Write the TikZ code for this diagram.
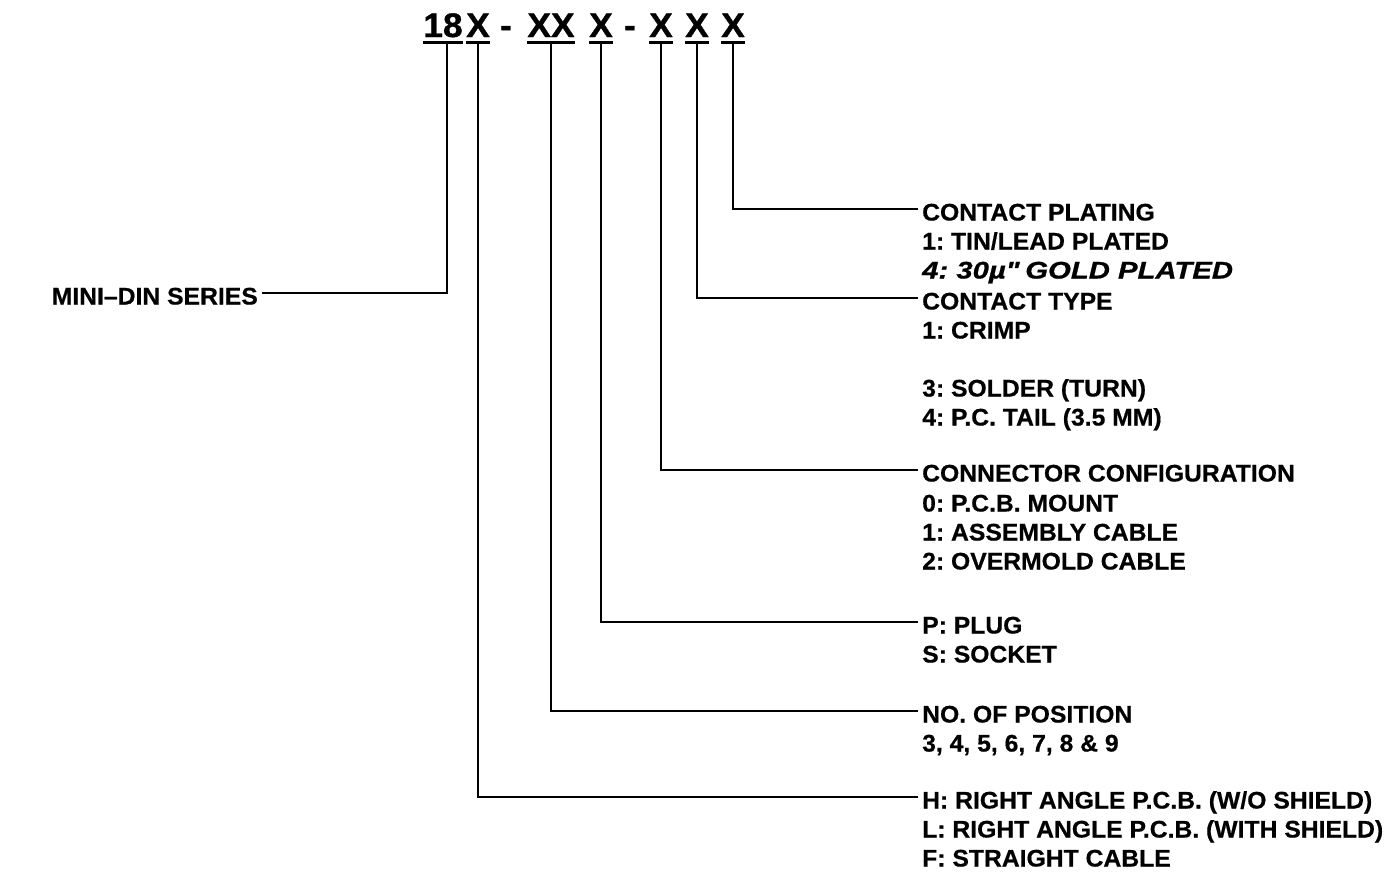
\documentclass[tikz,border=0pt]{standalone}
\usepackage{fontspec}
\setmainfont{Liberation Sans}[FakeStretch=1.03,FakeBold=0.6]
\newfontfamily\codefont{Liberation Sans}[FakeStretch=1.04,FakeBold=1]
\newfontfamily\handfont{Liberation Sans}[FakeStretch=1.22,FakeBold=0.8]
\frenchspacing
\begin{document}
\begin{tikzpicture}[x=1pt, y=-1pt,
  lbl/.style={anchor=west, inner xsep=4pt, inner ysep=0pt, text height=17pt, text depth=0pt,
    font=\fontsize{24}{24}\selectfont\bfseries\frenchspacing},
  lblr/.style={lbl, anchor=east},
  hand/.style={font=\handfont\fontsize{24}{24}\selectfont\bfseries\itshape\frenchspacing},
  code/.style={inner xsep=0pt, inner ysep=5pt, text height=24pt, text depth=0pt,
    font=\codefont\fontsize{34}{34}\selectfont\bfseries},
  ul/.style={line width=3pt},
  conn/.style={line width=2.2pt}]
\useasboundingbox (0,0) rectangle (1396,871);

% part number
\node[code] (c18) at (443,25) {18};
\node[code] (cX1) at (478,25) {X};
\node[code] (d1)  at (506,25) {-};
\node[code] (cXX) at (551,25) {XX};
\node[code] (cX2) at (601,25) {X};
\node[code] (d2)  at (630,25) {-};
\node[code] (cX3) at (661,25) {X};
\node[code] (cX4) at (697,25) {X};
\node[code] (cX5) at (733,25) {X};

\foreach \n in {c18,cX1,cXX,cX2,cX3,cX4,cX5}
  \draw[ul] (\n.south west) -- (\n.south east);

% labels
\node[lblr] (mini) at (262,296) {MINI–DIN SERIES};

\node[lbl] (cp)  at (918,212) {CONTACT PLATING};
\node[lbl] (cp1) at (918,241) {1: TIN/LEAD PLATED};
\node[lbl,hand] (cp4) at (918,270) {4: 30µ\textquotedbl\ GOLD PLATED};
\node[lbl] (ct)  at (918,301) {CONTACT TYPE};
\node[lbl] (ct1) at (918,330) {1: CRIMP};
\node[lbl] (ct3) at (918,388) {3: SOLDER (TURN)};
\node[lbl] (ct4) at (918,417) {4: P.C. TAIL (3.5 MM)};

\node[lbl] (cc)  at (918,473) {CONNECTOR CONFIGURATION};
\node[lbl] (cc0) at (918,503) {0: P.C.B. MOUNT};
\node[lbl] (cc1) at (918,532) {1: ASSEMBLY CABLE};
\node[lbl] (cc2) at (918,561) {2: OVERMOLD CABLE};

\node[lbl] (pp)  at (918,625) {P: PLUG};
\node[lbl] (ps)  at (918,654) {S: SOCKET};

\node[lbl] (np)  at (918,714) {NO. OF POSITION};
\node[lbl] (nn)  at (918,743) {3, 4, 5, 6, 7, 8 \& 9};

\node[lbl] (hh)  at (918,800) {H: RIGHT ANGLE P.C.B. (W/O SHIELD)};
\node[lbl] (hl)  at (918,829) {L: RIGHT ANGLE P.C.B. (WITH SHIELD)};
\node[lbl] (hf)  at (918,858) {F: STRAIGHT CABLE};

% connectors
\draw[conn] ([xshift=4pt]c18.south) |- ([yshift=3pt]mini.east);
\draw[conn] (cX1.south) |- ([yshift=3pt]hh.west);
\draw[conn] (cXX.south) |- ([yshift=3pt]np.west);
\draw[conn] (cX2.south) |- ([yshift=3pt]pp.west);
\draw[conn] (cX3.south) |- ([yshift=3pt]cc.west);
\draw[conn] (cX4.south) |- ([yshift=3pt]ct.west);
\draw[conn] (cX5.south) |- ([yshift=3pt]cp.west);
\end{tikzpicture}
\end{document}
